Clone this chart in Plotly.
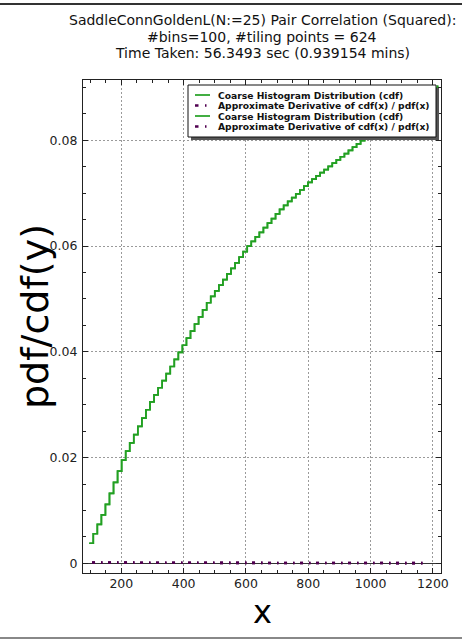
import plotly.graph_objects as go

# ---------------- data ----------------
bin_x = [97, 110, 123, 136, 149, 162, 175, 188, 201, 214, 227, 240, 253, 266, 279,
         292, 305, 318, 331, 344, 357, 370, 383, 396, 409, 422, 435, 448, 461, 474,
         487, 500, 513, 526, 539, 552, 565, 578, 591, 604, 617, 630, 643, 656, 669,
         682, 695, 708, 721, 734, 747, 760, 773, 786, 799, 812, 825, 838, 851, 864,
         877, 890, 903, 916, 929, 942, 955, 968, 981, 994, 1007, 1020, 1033, 1046,
         1059, 1072, 1085, 1098, 1111, 1124, 1137, 1150, 1163, 1176, 1189, 1202, 1215]
cdf_y = [0.00380, 0.00559, 0.00738, 0.00917, 0.01113, 0.01323, 0.01532, 0.01742,
         0.01952, 0.02121, 0.02277, 0.02434, 0.02590, 0.02747, 0.02904, 0.03052,
         0.03186, 0.03320, 0.03454, 0.03588, 0.03722, 0.03856, 0.03990, 0.04124,
         0.04258, 0.04392, 0.04526, 0.04660, 0.04794, 0.04928, 0.05049, 0.05154,
         0.05260, 0.05366, 0.05472, 0.05577, 0.05683, 0.05789, 0.05894, 0.06000,
         0.06087, 0.06173, 0.06260, 0.06347, 0.06433, 0.06520, 0.06607, 0.06693,
         0.06770, 0.06843, 0.06915, 0.06987, 0.07060, 0.07132, 0.07204, 0.07266,
         0.07326, 0.07387, 0.07447, 0.07508, 0.07568, 0.07629, 0.07689, 0.07749,
         0.07810, 0.07870, 0.07931, 0.07991, 0.08047, 0.08102, 0.08156, 0.08211,
         0.08266, 0.08321, 0.08376, 0.08431, 0.08486, 0.08541, 0.08596, 0.08651,
         0.08706, 0.08761, 0.08816, 0.08871, 0.08926, 0.08981, 0.09036]

deriv_x = [106, 200, 300, 400, 500, 600, 700, 800, 900, 1000, 1100, 1171]
deriv_y = [0.00014, 0.00015, 0.00012, 0.000103, 0.000095, 0.000082, 0.00007,
           0.000058, 0.00005, 0.000046, 0.000043, 0.000042]

series_names = ["Coarse Histogram Distribution (cdf)",
                "Approximate Derivative of cdf(x) / pdf(x)"]

title_lines = ["SaddleConnGoldenL(N:=25) Pair Correlation (Squared):",
               "#bins=100, #tiling points = 624",
               "Time Taken: 56.3493 sec (0.939154 mins)"]

x_tickvals = [200, 400, 600, 800, 1000, 1200]
y_tickvals = [0, 0.02, 0.04, 0.06, 0.08]
y_ticktext = ["0", "0.02", "0.04", "0.06", "0.08"]

# ---------------- styles ----------------
GREEN = "#22a022"
PURPLE = "#500050"
FONT = "DejaVu Sans"
W, H = 462, 639
L, R, T, B = 83, 21, 80, 66
PW, PH = W - L - R, H - T - B


def px(xp):
    return (xp - L) / PW


def py(yp):
    return (H - B - yp) / PH


fig = go.Figure()
for _ in range(2):
    fig.add_trace(go.Scatter(x=bin_x, y=cdf_y, mode="lines", line_shape="hv",
                             line=dict(color=GREEN, width=1.7),
                             name=series_names[0], showlegend=False))
    fig.add_trace(go.Scatter(x=deriv_x, y=deriv_y, mode="lines",
                             line=dict(color=PURPLE, width=2.6,
                                       dash="3px,6px,1.5px,5.5px"),
                             name=series_names[1], showlegend=False))

axis_common = dict(
    showline=True, linecolor="#222", linewidth=1.2, mirror="allticks",
    ticks="inside", ticklen=5, tickcolor="#222", tickwidth=1,
    showgrid=True, gridcolor="#9a9a9a", gridwidth=1, griddash="1.5px,2.5px",
    tickfont=dict(family=FONT, size=12.5, color="#222"),
)

fig.update_xaxes(range=[77, 1226], tickvals=x_tickvals, zeroline=False,
                 ticklabelstandoff=-1,
                 minor=dict(dtick=50, tick0=0, ticks="inside", ticklen=3,
                            tickcolor="#222", showgrid=False),
                 **axis_common)
fig.update_yaxes(range=[-0.00183, 0.0914], tickvals=y_tickvals, ticktext=y_ticktext,
                 zeroline=True, zerolinecolor="#333", zerolinewidth=1,
                 ticklabelstandoff=2,
                 minor=dict(dtick=0.005, tick0=0, ticks="inside", ticklen=3,
                            tickcolor="#222", showgrid=False),
                 **axis_common)

shapes = []
# figure frame strips (top dark, bottom gray)
shapes.append(dict(type="rect", xref="paper", yref="paper", layer="above",
                   x0=px(0), x1=px(W), y0=py(5), y1=py(3),
                   fillcolor="#333", line=dict(width=0)))
shapes.append(dict(type="rect", xref="paper", yref="paper", layer="above",
                   x0=px(0), x1=px(W), y0=py(639), y1=py(637),
                   fillcolor="#888", line=dict(width=0)))
# legend shadow + box
shapes.append(dict(type="rect", xref="paper", yref="paper", layer="above",
                   x0=px(191), x1=px(439), y0=py(140), y1=py(88),
                   fillcolor="#555", line=dict(width=0)))
shapes.append(dict(type="rect", xref="paper", yref="paper", layer="above",
                   x0=px(188), x1=px(436), y0=py(137), y1=py(85),
                   fillcolor="white", line=dict(color="#111", width=1)))

rows = [95, 105.5, 116, 126.5]
annotations = []
for i, ry in enumerate(rows):
    k = i % 2
    if k == 0:
        shapes.append(dict(type="line", xref="paper", yref="paper", layer="above",
                           x0=px(195), x1=px(210), y0=py(ry), y1=py(ry),
                           line=dict(color=GREEN, width=1.7)))
    else:
        shapes.append(dict(type="line", xref="paper", yref="paper", layer="above",
                           x0=px(195), x1=px(207), y0=py(ry), y1=py(ry),
                           line=dict(color=PURPLE, width=2.6, dash="3.5px,6.5px,1.5px,6px")))
    annotations.append(dict(xref="paper", yref="paper", x=px(216), y=py(ry),
                            xanchor="left", yanchor="middle", showarrow=False,
                            text="<b>" + series_names[k] + "</b>",
                            font=dict(family=FONT, size=9.2, color="#111")))

for ty, line in zip([20, 36.7, 53.3], title_lines):
    annotations.append(dict(xref="paper", yref="paper", x=0.5, y=py(ty),
                            xanchor="center", yanchor="middle", showarrow=False,
                            text=line, font=dict(family=FONT, size=14, color="#111")))

annotations.append(dict(xref="paper", yref="paper", x=0.5, y=py(612),
                        xanchor="center", yanchor="middle", showarrow=False,
                        text="x", font=dict(family=FONT, size=32, color="#000")))
annotations.append(dict(xref="paper", yref="paper", x=px(35), y=py(317),
                        xanchor="center", yanchor="middle", showarrow=False,
                        textangle=-90,
                        text="pdf/cdf(y)", font=dict(family=FONT, size=38, color="#000")))

fig.update_layout(
    width=W, height=H, template="none",
    margin=dict(l=L, r=R, t=T, b=B, pad=0),
    paper_bgcolor="white", plot_bgcolor="white",
    showlegend=False, shapes=shapes, annotations=annotations,
    font=dict(family=FONT),
)

fig.write_html("out.html", config={"displayModeBar": False},
               post_script="document.body.style.margin='0px';"
                           "document.body.style.overflow='hidden';")
